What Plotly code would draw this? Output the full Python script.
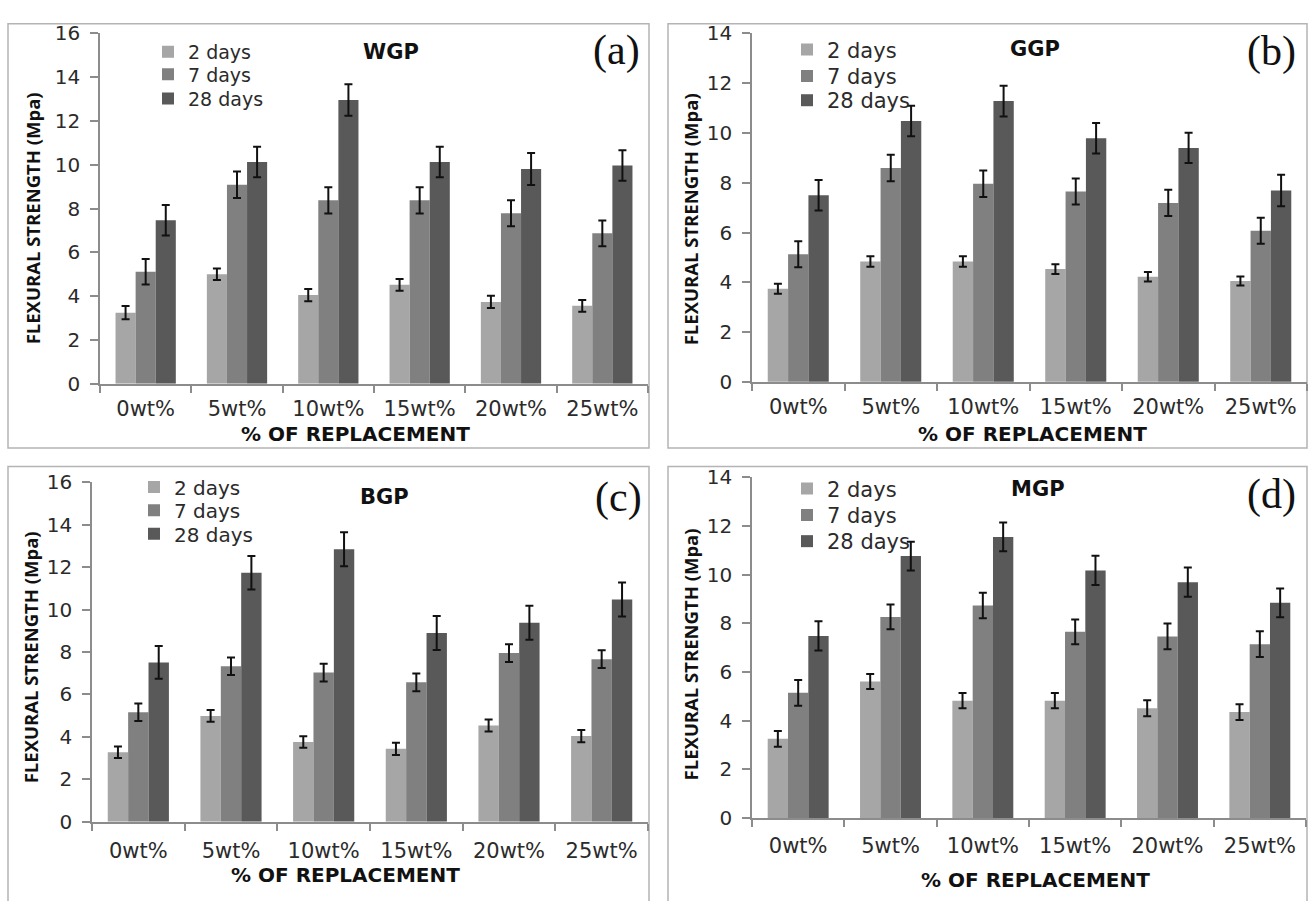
import plotly.graph_objects as go

# ---- data -------------------------------------------------------------
categories = ["0wt%", "5wt%", "10wt%", "15wt%", "20wt%", "25wt%"]
ages = ["2 days", "7 days", "28 days"]

# WGP
wgp_2d = [3.25, 5.00, 4.05, 4.52, 3.74, 3.56]
wgp_7d = [5.12, 9.09, 8.38, 8.38, 7.79, 6.87]
wgp_28d = [7.47, 10.13, 12.96, 10.13, 9.81, 9.97]
wgp_err_2d = [0.30, 0.26, 0.28, 0.27, 0.28, 0.27]
wgp_err_7d = [0.58, 0.60, 0.60, 0.60, 0.59, 0.59]
wgp_err_28d = [0.70, 0.70, 0.72, 0.70, 0.73, 0.70]

# GGP
ggp_2d = [3.74, 4.84, 4.84, 4.53, 4.22, 4.05]
ggp_7d = [5.13, 8.59, 7.96, 7.65, 7.19, 6.07]
ggp_28d = [7.50, 10.48, 11.28, 9.79, 9.40, 7.69]
ggp_err_2d = [0.20, 0.21, 0.21, 0.20, 0.19, 0.18]
ggp_err_7d = [0.52, 0.53, 0.53, 0.52, 0.53, 0.52]
ggp_err_28d = [0.61, 0.61, 0.62, 0.61, 0.61, 0.63]

# BGP
bgp_2d = [3.28, 4.99, 3.76, 3.44, 4.54, 4.04]
bgp_7d = [5.16, 7.33, 7.03, 6.57, 7.95, 7.66]
bgp_28d = [7.51, 11.73, 12.84, 8.89, 9.38, 10.47]
bgp_err_2d = [0.27, 0.28, 0.27, 0.29, 0.28, 0.29]
bgp_err_7d = [0.41, 0.41, 0.42, 0.42, 0.42, 0.42]
bgp_err_28d = [0.77, 0.79, 0.80, 0.80, 0.80, 0.80]

# MGP
mgp_2d = [3.25, 5.61, 4.82, 4.82, 4.51, 4.35]
mgp_7d = [5.14, 8.26, 8.73, 7.65, 7.46, 7.14]
mgp_28d = [7.48, 10.76, 11.55, 10.17, 9.69, 8.84]
mgp_err_2d = [0.32, 0.31, 0.31, 0.31, 0.33, 0.32]
mgp_err_7d = [0.53, 0.51, 0.52, 0.51, 0.53, 0.53]
mgp_err_28d = [0.60, 0.59, 0.59, 0.60, 0.60, 0.59]

panel_names = ["WGP", "GGP", "BGP", "MGP"]
panel_tags = ["(a)", "(b)", "(c)", "(d)"]
panel_ymax = [16, 14, 16, 14]
panel_means = [
    [wgp_2d, wgp_7d, wgp_28d],
    [ggp_2d, ggp_7d, ggp_28d],
    [bgp_2d, bgp_7d, bgp_28d],
    [mgp_2d, mgp_7d, mgp_28d],
]
panel_errs = [
    [wgp_err_2d, wgp_err_7d, wgp_err_28d],
    [ggp_err_2d, ggp_err_7d, ggp_err_28d],
    [bgp_err_2d, bgp_err_7d, bgp_err_28d],
    [mgp_err_2d, mgp_err_7d, mgp_err_28d],
]

# ---- styling / layout geometry (pixels) -------------------------------
W, H = 1309, 901
bar_colors = ["#a6a6a6", "#808080", "#595959"]
axis_color = "#8c8c8c"
frame_color = "#b4b4b4"
sans = "DejaVu Sans"
title_sans = "Open Sans"
serif = "Liberation Serif"


def px(x):
    return x / W


def py(y):
    return 1 - y / H


# frame box, plot x-span, plot y-span (bottom, top), legend swatch x and row
# centres, legend font, category label standoff, name pos, tag pos,
# y-title pos, x-title pos
geom = [
    dict(box=(8, 12, 649, 448), xs=(100, 648), ys=(382, 22),
         legx=169, legy=(41, 64, 89), legfont=19, xstand=5,
         name=(391, 41), tag=(616, 40), ytitle=(32, 212), xtitle=(355, 434)),
    dict(box=(668, 12, 1307, 448), xs=(752, 1307), ys=(380, 22),
         legx=808, legy=(39, 66, 91), legfont=21, xstand=5,
         name=(1035, 38), tag=(1271, 41), ytitle=(690, 213), xtitle=(1032, 434)),
    dict(box=(8, 467, 649, 920), xs=(92, 648), ys=(832, 483),
         legx=155, legy=(488, 512, 536), legfont=20, xstand=9,
         name=(384, 498), tag=(618, 499), ytitle=(30, 663), xtitle=(345, 887)),
    dict(box=(668, 467, 1307, 920), xs=(752, 1306), ys=(828, 478),
         legx=808, legy=(490, 517, 544), legfont=21, xstand=8,
         name=(1038, 490), tag=(1271, 496), ytitle=(690, 660), xtitle=(1035, 892)),
]

fig = go.Figure()
layout = dict(
    width=W, height=H,
    margin=dict(l=0, r=0, t=0, b=0),
    paper_bgcolor="white", plot_bgcolor="white",
    barmode="group", bargap=0.34, bargroupgap=0.0,
    shapes=[], annotations=[],
)

legend_idx = 0
for i in range(4):
    g = geom[i]
    sfx = "" if i == 0 else str(i + 1)
    xa, ya = "x" + sfx, "y" + sfx
    for k in range(3):
        legend_idx += 1
        leg_name = "legend" if legend_idx == 1 else "legend%d" % legend_idx
        fig.add_trace(go.Bar(
            x=categories, y=panel_means[i][k], name=ages[k],
            marker=dict(color=bar_colors[k], line=dict(width=0)),
            error_y=dict(type="data", array=panel_errs[i][k], visible=True,
                         color="#111111", thickness=2, width=4),
            xaxis=xa, yaxis=ya, legend=leg_name, showlegend=True,
        ))
        # one legend entry per age, stacked as a column
        layout[leg_name] = dict(
            x=px(g["legx"] - 21), y=py(g["legy"][k]), xanchor="left", yanchor="middle",
            bgcolor="rgba(0,0,0,0)", borderwidth=0,
            font=dict(family=sans, size=g["legfont"], color="#2b2b2b"),
            itemclick=False, itemdoubleclick=False,
        )

    layout["xaxis" + sfx] = dict(
        domain=[px(g["xs"][0]), px(g["xs"][1])], anchor=ya,
        showline=True, linecolor=axis_color, linewidth=1.5,
        ticks="outside", tickson="boundaries", ticklen=7, tickcolor=axis_color, tickwidth=1.5,
        showgrid=False, zeroline=False,
        tickfont=dict(family=sans, size=21, color="#2b2b2b"), ticklabelstandoff=g["xstand"],
        fixedrange=True,
    )
    layout["yaxis" + sfx] = dict(
        domain=[py(g["ys"][0]), py(g["ys"][1])], anchor=xa,
        range=[0, panel_ymax[i]], dtick=2,
        showline=True, linecolor=axis_color, linewidth=1.5,
        ticks="outside", ticklen=8, tickcolor=axis_color, tickwidth=1.5,
        showgrid=False, zeroline=False,
        tickfont=dict(family=sans, size=20, color="#2b2b2b"), ticklabelstandoff=6,
        fixedrange=True,
    )

    x0, y0, x1, y1 = g["box"]
    layout["shapes"].append(dict(
        type="rect", xref="paper", yref="paper",
        x0=px(x0), x1=px(x1), y0=py(y1), y1=py(y0),
        line=dict(color=frame_color, width=1.5), fillcolor="rgba(0,0,0,0)", layer="below",
    ))

    layout["annotations"] += [
        dict(text="<b>%s</b>" % panel_names[i], xref="paper", yref="paper",
             x=px(g["name"][0]), y=py(g["name"][1]), xanchor="center", yanchor="middle",
             showarrow=False, font=dict(family=sans, size=21, color="#111111")),
        dict(text=panel_tags[i], xref="paper", yref="paper",
             x=px(g["tag"][0]), y=py(g["tag"][1]), xanchor="center", yanchor="middle",
             showarrow=False, font=dict(family=serif, size=42, color="#111111")),
        dict(text="<b>FLEXURAL STRENGTH (Mpa)</b>", xref="paper", yref="paper",
             x=px(g["ytitle"][0]), y=py(g["ytitle"][1]), xanchor="center", yanchor="middle",
             textangle=-90, showarrow=False,
             font=dict(family=title_sans, size=18.5, color="#111111")),
        dict(text="<b>% OF REPLACEMENT</b>", xref="paper", yref="paper",
             x=px(g["xtitle"][0]), y=py(g["xtitle"][1]), xanchor="center", yanchor="middle",
             showarrow=False, font=dict(family=sans, size=20, color="#111111")),
    ]

fig.update_layout(**layout)
fig.write_html("out.html")
